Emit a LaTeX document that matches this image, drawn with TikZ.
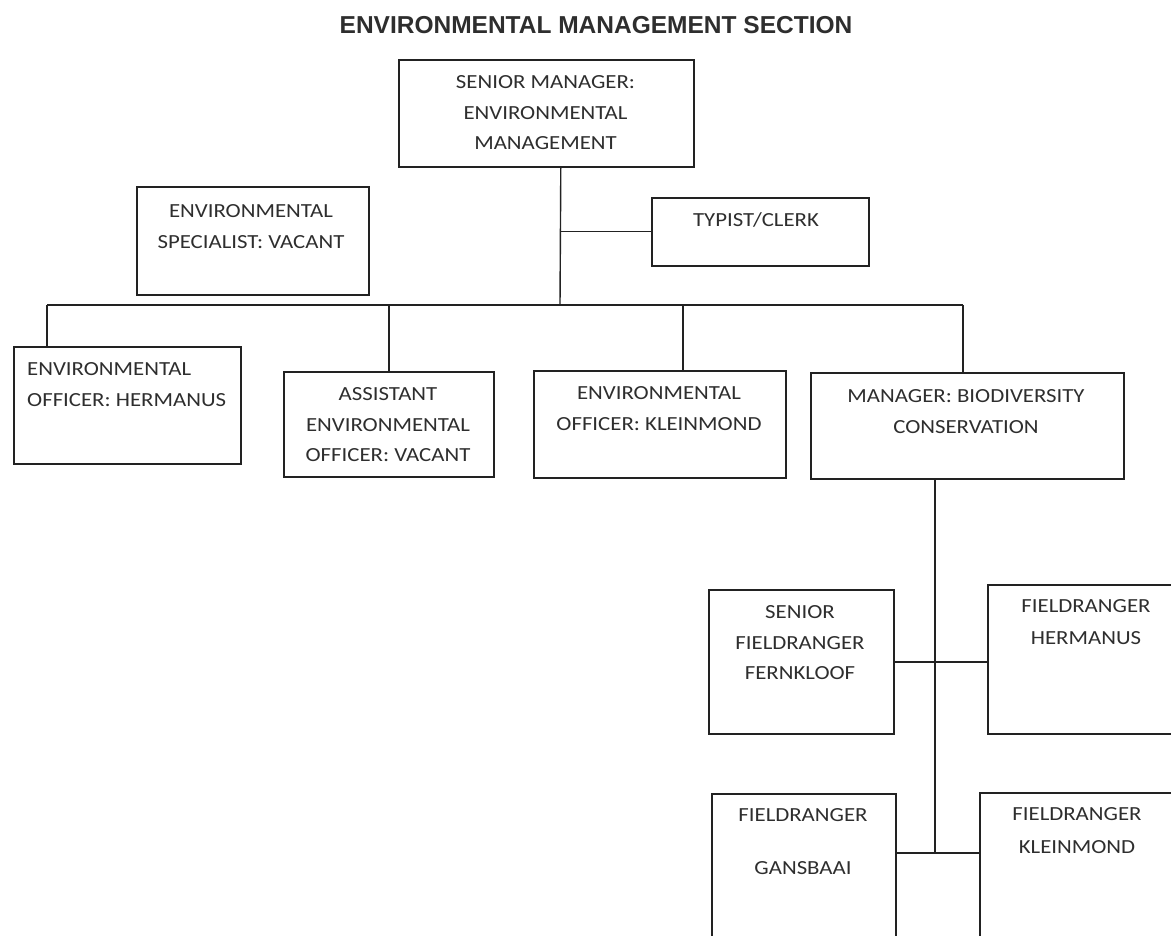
\documentclass[tikz,border=0pt]{standalone}
\usepackage{fontspec}
\setmainfont{Carlito}[FakeStretch=1.14]
\newfontfamily\titlefont{Liberation Sans}
\definecolor{linec}{HTML}{222222}
\definecolor{textc}{HTML}{2E2E2E}
\tikzset{
  orgbox/.style={draw=linec, line width=1.6pt, rectangle, inner sep=0pt, anchor=north west},
  lbl/.style={inner sep=0pt, align=center, text=textc, anchor=north, font=\fontsize{20}{30.5}\selectfont},
  conn/.style={draw=linec, line width=1.4pt},
}
\begin{document}
\begin{tikzpicture}[x=1pt,y=-1pt]
\useasboundingbox (0,0) rectangle (1171,936);
\clip (0,0) rectangle (1171,936);

\node[font=\titlefont\bfseries\fontsize{24.5}{28}\selectfont, text=textc, inner sep=0pt] (title) at (596,25) {ENVIRONMENTAL MANAGEMENT SECTION};

% boxes
\node[orgbox, minimum width=295pt, minimum height=107pt] (senior) at (398,59) {};
\node[orgbox, line width=2.4pt, minimum width=232pt, minimum height=108pt] (spec) at (136,186) {};
\node[orgbox, minimum width=217pt, minimum height=68pt] (typist) at (651,197) {};
\node[orgbox, minimum width=227pt, minimum height=117pt] (offH) at (13,346) {};
\node[orgbox, minimum width=210pt, minimum height=105pt] (asst) at (283,371) {};
\node[orgbox, minimum width=252pt, minimum height=107pt] (offK) at (533,370) {};
\node[orgbox, minimum width=313pt, minimum height=106pt] (mgr) at (810,372) {};
\node[orgbox, minimum width=185pt, minimum height=144pt] (sfr) at (708,589) {};
\node[orgbox, minimum width=220pt, minimum height=149pt] (frh) at (987,584) {};
\node[orgbox, minimum width=184pt, minimum height=180pt] (frg) at (711,793) {};
\node[orgbox, minimum width=220pt, minimum height=180pt] (frk) at (979,792) {};

% texts
\node[lbl] (senior-t) at (545.5,75.5) {SENIOR MANAGER:\\ENVIRONMENTAL\\MANAGEMENT};
\node[lbl] (spec-t) at (251,204.5) {ENVIRONMENTAL\\SPECIALIST: VACANT};
\node[lbl] (typist-t) at (756,212.5) {TYPIST/CLERK};
\node[lbl, align=left, anchor=north west] (offH-t) at (27,362.5) {ENVIRONMENTAL\\OFFICER: HERMANUS};
\node[lbl] (asst-t) at (388,387.5) {ASSISTANT\\ENVIRONMENTAL\\OFFICER: VACANT};
\node[lbl] (offK-t) at (659,386.5) {ENVIRONMENTAL\\OFFICER: KLEINMOND};
\node[lbl] (mgr-t) at (966,389.5) {MANAGER: BIODIVERSITY\\CONSERVATION};
\node[lbl] (sfr-t) at (800,605.5) {SENIOR\\FIELDRANGER\\FERNKLOOF};
\node[lbl] (frh-t) at (1086,599.5) {FIELDRANGER\\[1.5pt]HERMANUS};
\node[lbl] (frg-t) at (803,808.5) {FIELDRANGER\\[22.5pt]GANSBAAI};
\node[lbl] (frk-t) at (1077,807.5) {FIELDRANGER\\[2.5pt]KLEINMOND};

% connectors
\coordinate (bus) at (560,305);
\coordinate (dH) at (47,305);
\coordinate (dK) at (683,305);
\coordinate (dM) at (963,305);
\coordinate (vb) at (935,853);
\draw[conn] ([xshift=14.5pt]senior.south) -- (bus);
\draw[conn] (typist.west) -- (typist.west -| bus);
\draw[conn] (dH) -- (dM);
\draw[conn] (dH) -- (dH |- offH.north);
\draw[conn] (asst.north) -- (asst.north |- bus);
\draw[conn] (dK) -- (dK |- offK.north);
\draw[conn] (dM) -- (dM |- mgr.north);
\draw[conn] (mgr.south -| vb) -- (vb);
\draw[conn] (sfr.east) -- (frh.west |- sfr.east);
\draw[conn] (frg.east |- vb) -- (frk.west |- vb);
\end{tikzpicture}
\end{document}
